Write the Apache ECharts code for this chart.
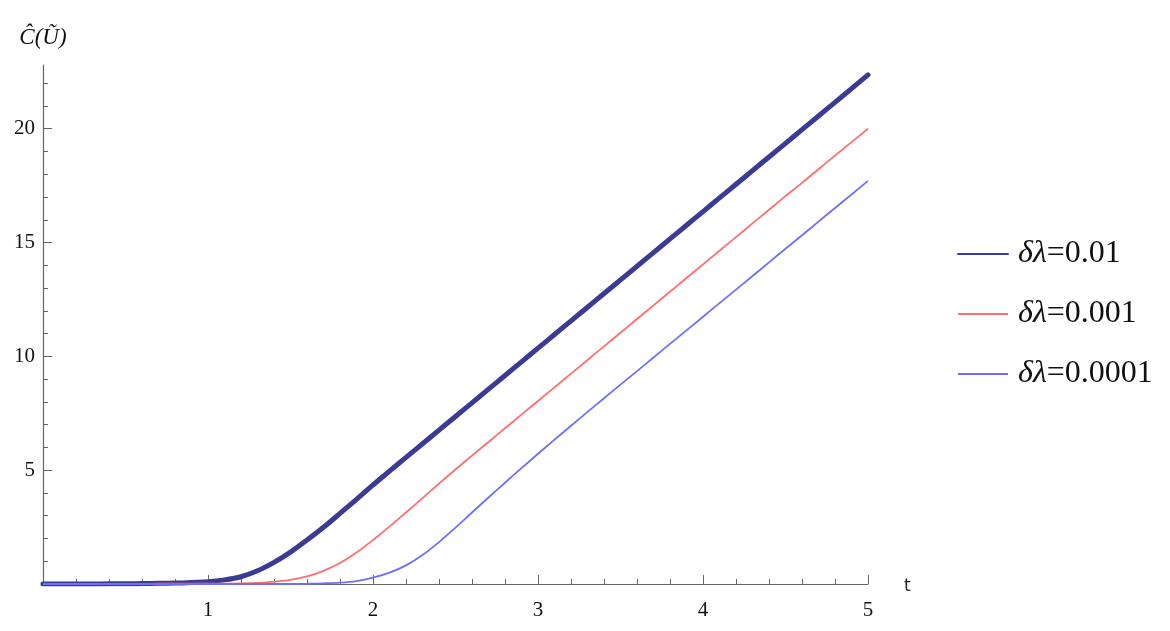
<!DOCTYPE html>
<html>
<head>
<meta charset="utf-8">
<title>C(U) vs t</title>
<script src="https://cdn.jsdelivr.net/npm/echarts@6/dist/echarts.min.js"></script>
<style>
  html, body { margin: 0; padding: 0; background: #fff; }
  #chart { width: 1170px; height: 631px; }
</style>
</head>
<body>
<div id="chart"></div>
<script>
  // time samples (x axis)
  var tValues = [
    0.0, 0.1, 0.2, 0.3, 0.4, 0.5, 0.6, 0.7, 0.8, 0.9,
    1.0, 1.1, 1.2, 1.3, 1.4, 1.5, 1.6, 1.7, 1.8, 1.9,
    2.0, 2.1, 2.2, 2.3, 2.4, 2.5, 2.6, 2.7, 2.8, 2.9,
    3.0, 3.1, 3.2, 3.3, 3.4, 3.5, 3.6, 3.7, 3.8, 3.9,
    4.0, 4.1, 4.2, 4.3, 4.4, 4.5, 4.6, 4.7, 4.8, 4.9,
    5.0
  ]
  // delta lambda = 0.01 (thick dark blue)
  var c001 = [
    0.00, 0.00, 0.00, 0.00, 0.01, 0.01, 0.02, 0.03, 0.04, 0.07,
    0.10, 0.18, 0.32, 0.58, 0.95, 1.40, 1.93, 2.49, 3.10, 3.72,
    4.35, 4.96, 5.56, 6.16, 6.76, 7.36, 7.96, 8.56, 9.16, 9.76,
    10.36, 10.96, 11.56, 12.16, 12.76, 13.36, 13.96, 14.56, 15.16, 15.76,
    16.36, 16.96, 17.56, 18.16, 18.76, 19.36, 19.96, 20.56, 21.16, 21.76,
    22.37
  ]
  // delta lambda = 0.001 (red)
  var c0001 = [
    0.00, 0.00, 0.00, 0.00, 0.00, 0.00, 0.00, 0.01, 0.01, 0.01,
    0.02, 0.02, 0.03, 0.05, 0.10, 0.18, 0.33, 0.58, 0.92, 1.38,
    1.93, 2.52, 3.14, 3.77, 4.41, 5.03, 5.64, 6.24, 6.84, 7.44,
    8.04, 8.64, 9.24, 9.84, 10.44, 11.04, 11.64, 12.24, 12.84, 13.44,
    14.04, 14.64, 15.24, 15.84, 16.44, 17.04, 17.62, 18.22, 18.82, 19.41,
    20.00
  ]
  // delta lambda = 0.0001 (light blue)
  var c00001 = [
    0.00, 0.00, 0.00, 0.00, 0.00, 0.00, 0.00, 0.00, 0.00, 0.00,
    0.00, 0.00, 0.00, 0.00, 0.00, 0.00, 0.01, 0.03, 0.06, 0.13,
    0.28, 0.50, 0.82, 1.27, 1.84, 2.48, 3.14, 3.80, 4.45, 5.09,
    5.72, 6.34, 6.95, 7.56, 8.16, 8.76, 9.35, 9.95, 10.55, 11.14,
    11.74, 12.34, 12.93, 13.53, 14.13, 14.73, 15.32, 15.92, 16.52, 17.11,
    17.71
  ]
  var seriesNames = ['δλ=0.01', 'δλ=0.001', 'δλ=0.0001']
  var yMajorTicks = [0, 5, 10, 15, 20]
  var yLabels = [5, 10, 15, 20]
  var yMinorTicks = [1, 2, 3, 4, 6, 7, 8, 9, 11, 12, 13, 14, 16, 17, 18, 19, 21, 22]

  var axisColor = '#666'
  var labelFont = 'Liberation Serif'

  function pairs (ys) {
    return tValues.map(function (t, i) { return [t, ys[i]] })
  }

  var chart = echarts.init(document.getElementById('chart'))
  chart.setOption({
    animation: false,
    backgroundColor: '#fff',
    grid: { left: 43, right: 302, top: 65, bottom: 47 },
    legend: {
      orient: 'vertical',
      left: 952,
      top: 231,
      itemWidth: 50,
      itemHeight: 14,
      itemGap: 24,
      // hide the dot that line series put in the middle of the legend line
      itemStyle: { opacity: 0 },
      formatter: function (name) {
        return '{g|' + name.slice(0, 2) + '}{n|' + name.slice(2) + '}'
      },
      textStyle: {
        color: '#111',
        lineHeight: 36,
        rich: {
          g: { fontFamily: labelFont, fontStyle: 'italic', fontSize: 32, color: '#111', padding: [0, 0, 0, 5] },
          n: { fontFamily: labelFont, fontSize: 32, color: '#111' }
        }
      },
      data: seriesNames
    },
    xAxis: {
      type: 'value',
      min: 0,
      max: 5,
      interval: 1,
      name: 't',
      nameLocation: 'end',
      nameGap: 36,
      nameTextStyle: { fontFamily: 'DejaVu Sans', fontSize: 17, color: '#222', verticalAlign: 'top', lineHeight: 6 },
      axisLine: { onZero: false, lineStyle: { color: axisColor, width: 1.2 } },
      axisTick: { inside: true, length: 9, lineStyle: { color: axisColor } },
      minorTick: { show: true, splitNumber: 5, length: 5, lineStyle: { color: axisColor } },
      axisLabel: {
        margin: 16,
        fontFamily: labelFont,
        fontSize: 21,
        color: '#111',
        formatter: function (v) { return v === 0 ? '' : String(v) }
      },
      splitLine: { show: false }
    },
    yAxis: [{
      type: 'value',
      min: 0,
      max: 22.8,
      interval: 5,
      name: 'Ĉ(Ũ)',
      nameLocation: 'end',
      nameGap: 16,
      nameTextStyle: { fontFamily: labelFont, fontStyle: 'italic', fontSize: 23, color: '#111', align: 'center' },
      axisLine: { onZero: false, lineStyle: { color: axisColor, width: 1.2 } },
      axisTick: { inside: true, length: 9, customValues: yMajorTicks, lineStyle: { color: axisColor } },
      axisLabel: {
        margin: 8,
        fontFamily: labelFont,
        fontSize: 21,
        color: '#111',
        customValues: yLabels
      },
      splitLine: { show: false }
    }, {
      // second axis only carries the unit minor ticks
      type: 'value',
      position: 'left',
      min: 0,
      max: 22.8,
      interval: 1,
      axisLine: { show: false },
      axisTick: { inside: true, length: 5, customValues: yMinorTicks, lineStyle: { color: axisColor } },
      axisLabel: { show: false },
      splitLine: { show: false }
    }],
    series: [{
      name: seriesNames[0],
      type: 'line',
      data: pairs(c001),
      smooth: 0.3,
      symbol: 'none',
      lineStyle: { color: '#3b3b95', width: 5, cap: 'round' },
      itemStyle: { color: '#3b3b95' }
    }, {
      name: seriesNames[1],
      type: 'line',
      data: pairs(c0001),
      smooth: 0.3,
      symbol: 'none',
      lineStyle: { color: '#ff6e6e', width: 1.8 },
      itemStyle: { color: '#ff6e6e' }
    }, {
      name: seriesNames[2],
      type: 'line',
      data: pairs(c00001),
      smooth: 0.3,
      symbol: 'none',
      lineStyle: { color: '#6e6eff', width: 1.8 },
      itemStyle: { color: '#6e6eff' }
    }]
  })
</script>
</body>
</html>
